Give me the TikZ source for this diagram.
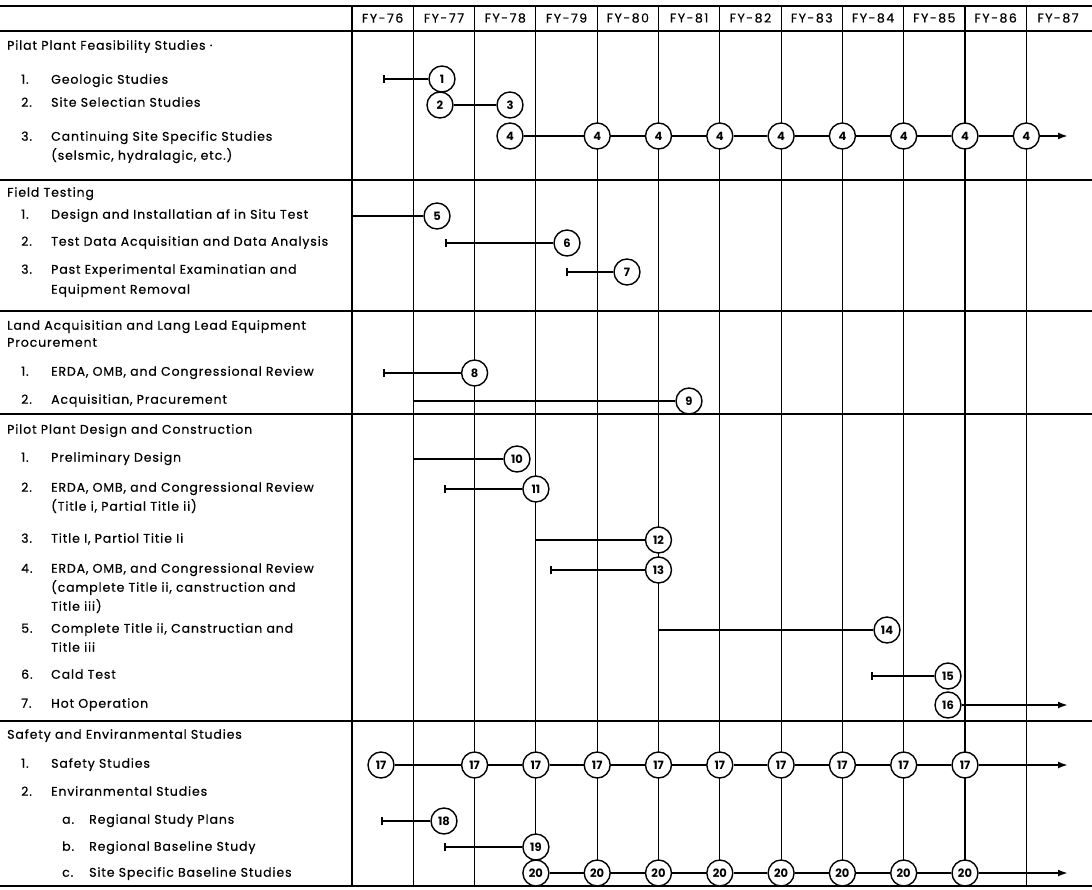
\documentclass[tikz,border=0pt]{standalone}
\usepackage{fontspec}
\setmainfont{Poppins}
\newfontfamily\lblfont{Poppins}[LetterSpace=7,FakeBold=0.5]
\newfontfamily\hdrfont{Poppins}[LetterSpace=12,FakeBold=0.4]
\usetikzlibrary{arrows.meta}
\newcommand\myitem[4]{\node[lbl] (#1n) at (21,#2) {#3}; \node[lbl] (#1t) at (51,#2) {#4};}
\newcommand\mysub[4]{\node[lbl] (#1n) at (62,#2) {#3}; \node[lbl] (#1t) at (89,#2) {#4};}
\newcommand\myline[3]{\node[lbl] (#1) at (#2) {#3};}
\begin{document}
\begin{tikzpicture}[x=1pt,y=-1pt,
  grid/.style={line width=1.1pt},
  bar/.style={line width=2.4pt},
  ms/.style={circle,draw,line width=1.4pt,fill=white,minimum size=26pt,inner sep=0pt,font=\fontsize{11.5}{11.5}\selectfont\bfseries},
  lbl/.style={anchor=mid west,inner sep=0pt,font=\lblfont\fontsize{12.5}{13}\selectfont},
  hdr/.style={inner sep=0pt,font=\hdrfont\fontsize{12.5}{13}\selectfont},
  st/.style={bar,{Bar[width=8pt,line width=1.6pt]}-},
  arr/.style={bar,-{Latex[length=10pt,width=7pt]}}
]
\fill[white] (0,0) rectangle (1092,890);
\useasboundingbox (0,0) rectangle (1092,890);
% horizontal rules
\foreach \n/\y in {top/6,hb/31,s1/180,s2/311,s3/414,s4/721,bot/886}{
  \coordinate (\n L) at (0,\y); \coordinate (\n R) at (1092,\y);
  \draw[grid] (\n L) -- (\n R);
}
% vertical rules
\foreach \i in {0,...,11}{
  \coordinate (t\i) at ({352+61.3*\i},6);
  \coordinate (b\i) at ({352+61.3*\i},886);
  \draw[grid] (t\i) -- (b\i);
}
% header
\foreach \i/\lab in {0/76,1/77,2/78,3/79,4/80,5/81,6/82,7/83,8/84,9/85,10/86}{
  \node[hdr] (fy\lab) at ({352+61.3*\i+30.65},18) {FY-\lab};
}
\node[hdr] (fy87) at (1058,18) {FY-87};
% texts
\myline{h1}{7,47}{Pilat Plant Feasibility Studies ·}
\myitem{a1}{81}{1.}{Geologic Studies}
\myitem{a2}{104}{2.}{Site Selectian Studies}
\myitem{a3}{138}{3.}{Cantinuing Site Specific Studies}
\myline{a3b}{51,157}{(selsmic, hydralagic, etc.)}
\myline{h2}{7,194}{Field Testing}
\myitem{b1}{216}{1.}{Design and Installatian af in Situ Test}
\myitem{b2}{243}{2.}{Test Data Acquisitian and Data Analysis}
\myitem{b3}{271}{3.}{Past Experimental Examinatian and}
\myline{b3b}{51,291}{Equipment Removal}
\myline{h3}{7,327}{Land Acquisitian and Lang Lead Equipment}
\myline{h3b}{7,344}{Procurement}
\myitem{c1}{373}{1.}{ERDA, OMB, and Congressional Review}
\myitem{c2}{401}{2.}{Acquisitian, Pracurement}
\myline{h4}{7,431}{Pilot Plant Design and Construction}
\myitem{d1}{459}{1.}{Preliminary Design}
\myitem{d2}{489}{2.}{ERDA, OMB, and Congressional Review}
\myline{d2b}{51,508}{(Title i, Partial Title ii)}
\myitem{d3}{540}{3.}{Title I, Partiol Titie Ii}
\myitem{d4}{570}{4.}{ERDA, OMB, and Congressional Review}
\myline{d4b}{51,589}{(camplete Title ii, canstruction and}
\myline{d4c}{51,608}{Title iii)}
\myitem{d5}{630}{5.}{Complete Title ii, Canstructian and}
\myline{d5b}{51,649}{Title iii}
\myitem{d6}{676}{6.}{Cald Test}
\myitem{d7}{705}{7.}{Hot Operation}
\myline{h5}{7,736}{Safety and Enviranmental Studies}
\myitem{e1}{765}{1.}{Safety Studies}
\myitem{e2}{793}{2.}{Enviranmental Studies}
\mysub{ea}{821}{a.}{Regianal Study Plans}
\mysub{eb}{848}{b.}{Regional Baseline Study}
\mysub{ec}{874}{c.}{Site Specific Baseline Studies}
% milestones
\node[ms] (m1) at (442,79) {1};
\node[ms] (m2) at (440,105) {2};
\node[ms] (m3) at (510,105) {3};
\node[ms] (m4x0) at (510,136) {4};
\foreach \i in {4,...,11}{ \node[ms] (m4x\i) at ({352+61.3*\i},136) {4}; }
\node[ms] (m5) at (437,216) {5};
\node[ms] (m6) at (567,243) {6};
\node[ms] (m7) at (627,272) {7};
\node[ms] (m8) at (474.6,373) {8};
\node[ms] (m9) at (689,401) {9};
\node[ms] (m10) at (517,459) {10};
\node[ms] (m11) at (535.9,489) {11};
\node[ms] (m12) at (658.5,540) {12};
\node[ms] (m13) at (658.5,570) {13};
\node[ms] (m14) at (887,630) {14};
\node[ms] (m15) at (948,676) {15};
\node[ms] (m16) at (948,705) {16};
\node[ms] (m17x0) at (381,765) {17};
\foreach \i in {2,...,10}{ \node[ms] (m17x\i) at ({352+61.3*\i},765) {17}; }
\node[ms] (m18) at (444,821) {18};
\node[ms] (m19) at (535.9,847) {19};
\foreach \i in {3,...,10}{ \node[ms] (m20x\i) at ({352+61.3*\i},873) {20}; }
% start points and ends
\coordinate (s1) at (383,79);
\coordinate (s5) at (352,216);
\coordinate (s6) at (445,243);
\coordinate (s7) at (566,272);
\coordinate (s8) at (383,373);
\coordinate (s9) at (413.3,401);
\coordinate (s10) at (413.3,459);
\coordinate (s11) at (444,489);
\coordinate (s12) at (535.9,540);
\coordinate (s13) at (550,570);
\coordinate (s14) at (658.5,630);
\coordinate (s15) at (871,676);
\coordinate (s18) at (381,821);
\coordinate (s19) at (444,847);
\coordinate (e4) at (1068,136);
\coordinate (e16) at (1068,705);
\coordinate (e17) at (1068,765);
\coordinate (e20) at (1068,873);
% bars
\draw[st] (s1) -- (m1);
\draw[bar] (m2) -- (m3);
\draw[bar] (m4x0) -- (m4x4);
\foreach \i [evaluate=\i as \j using int(\i+1)] in {4,...,10}{ \draw[bar] (m4x\i) -- (m4x\j); }
\draw[arr] (m4x11) -- (e4);
\draw[bar] (s5) -- (m5);
\draw[st] (s6) -- (m6);
\draw[st] (s7) -- (m7);
\draw[st] (s8) -- (m8);
\draw[bar] (s9) -- (m9);
\draw[bar] (s10) -- (m10);
\draw[st] (s11) -- (m11);
\draw[bar] (s12) -- (m12);
\draw[st] (s13) -- (m13);
\draw[bar] (s14) -- (m14);
\draw[st] (s15) -- (m15);
\draw[arr] (m16) -- (e16);
\draw[bar] (m17x0) -- (m17x2);
\foreach \i [evaluate=\i as \j using int(\i+1)] in {2,...,9}{ \draw[bar] (m17x\i) -- (m17x\j); }
\draw[arr] (m17x10) -- (e17);
\draw[st] (s18) -- (m18);
\draw[st] (s19) -- (m19);
\foreach \i [evaluate=\i as \j using int(\i+1)] in {3,...,9}{ \draw[bar] (m20x\i) -- (m20x\j); }
\draw[arr] (m20x10) -- (e20);
\end{tikzpicture}
\end{document}
